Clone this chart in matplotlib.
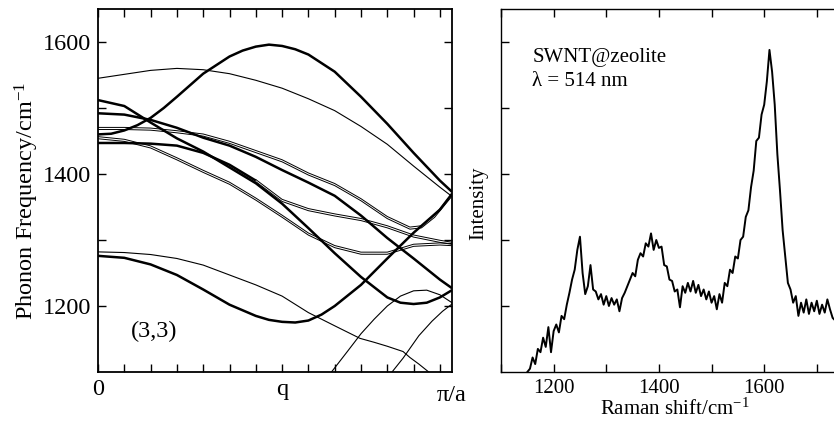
#!/usr/bin/env python
# -*- coding: utf-8 -*-

import matplotlib
matplotlib.use('Agg')
import matplotlib.pyplot as plt
import numpy as np

plt.rcParams['font.family'] = ['Liberation Serif', 'DejaVu Serif']
plt.rcParams['mathtext.fontset'] = 'custom'
plt.rcParams['mathtext.rm'] = 'Liberation Serif'
plt.rcParams['mathtext.it'] = 'Liberation Serif:italic'

# ---- phonon dispersion of the (3,3) tube (q in tick units, pi/a = 13.46) ----
q_grid = [0, 1, 2, 3, 4, 5, 6, 7, 8, 9, 10, 11, 12, 13, 13.46]

band_a_q = [0, 0.5, 1, 1.5, 2, 2.5, 3, 4, 5, 5.5, 6, 6.5, 7, 7.5, 8, 9, 10, 11, 12, 13, 13.46]
band_a = [1460, 1461, 1466, 1474, 1485, 1500, 1517, 1552, 1578, 1587, 1593, 1596, 1594, 1589, 1581,
          1555, 1517, 1476, 1432, 1390, 1373]
band_b = [1545, 1551, 1557, 1560, 1558, 1552, 1542, 1530, 1514, 1496, 1472, 1445, 1412, 1380, 1366]
band_d = [1492, 1490, 1482, 1470, 1455, 1443, 1426, 1406, 1387, 1367, 1337, 1303, 1272, 1240, 1227]
band_f = [1455, 1451, 1441, 1423, 1404, 1386, 1362, 1336, 1309, 1290, 1280, 1280, 1292, 1294, 1293]
band_g = [1447, 1447, 1446, 1443, 1432, 1414, 1390, 1360, 1346, 1338, 1331, 1320, 1306, 1298, 1295]

band_c_q = [0, 1, 2, 3, 4, 5, 6, 7, 8, 9, 10, 11, 11.5, 12, 12.5, 13, 13.46]
band_c = [1512, 1503, 1478, 1454, 1434, 1410, 1386, 1355, 1318, 1280, 1244, 1213, 1205, 1203, 1205,
          1213, 1224]

band_e_q = [0, 1, 2, 3, 4, 5, 6, 7, 8, 9, 10, 11, 11.86, 12.3, 12.8, 13.46]
band_e = [1469, 1469, 1468, 1464, 1459, 1448, 1434, 1420, 1400, 1384, 1361, 1334, 1318, 1320, 1336, 1368]

band_h_q = [0, 1, 2, 3, 4, 5, 6, 7, 8, 9, 9.96, 10.5, 11, 11.6, 11.86, 12.2, 12.7]
band_h = [1282, 1281, 1278, 1272, 1262, 1247, 1232, 1215, 1190, 1170, 1151, 1145, 1139, 1131, 1122, 1112, 1096]

band_i_q = [0, 1, 2, 3, 4, 5, 6, 6.5, 7, 7.5, 8, 8.5, 9, 10, 11, 12, 13, 13.46]
band_i = [1276, 1273, 1263, 1247, 1225, 1202, 1185, 1179, 1176, 1175, 1178, 1187, 1200, 1232, 1272,
          1311, 1346, 1370]

band_r1_q = [8.8, 9.5, 10, 10.5, 11, 11.5, 12, 12.5, 13, 13.46]
band_r1 = [1096, 1132, 1158, 1180, 1200, 1215, 1223, 1224, 1217, 1205]

band_r2_q = [11.1, 11.6, 12.2, 12.7, 13.1, 13.46]
band_r2 = [1096, 1121, 1155, 1177, 1192, 1203]

# ---- Raman spectrum, SWNT@zeolite, 514 nm ----
raman_shift = np.arange(1150, 1736, 5)
raman_int = [0.00, 0.05, 0.22, 0.12, 0.35, 0.30, 0.52, 0.38, 0.68, 0.30,
             0.62, 0.72, 0.60, 0.85, 0.80, 1.02, 1.20, 1.40, 1.55, 1.85,
             2.05, 1.50, 1.18, 1.30, 1.62, 1.25, 1.22, 1.10, 1.18, 1.02,
             1.15, 1.00, 1.12, 1.02, 1.10, 0.92, 1.12, 1.20, 1.30, 1.40,
             1.50, 1.45, 1.70, 1.80, 1.75, 1.95, 1.90, 2.10, 1.85, 2.00,
             1.88, 1.90, 1.62, 1.60, 1.40, 1.38, 1.22, 1.25, 0.98, 1.30,
             1.20, 1.35, 1.22, 1.38, 1.20, 1.32, 1.15, 1.25, 1.10, 1.22,
             1.05, 1.15, 0.95, 1.18, 1.05, 1.35, 1.30, 1.55, 1.50, 1.75,
             1.72, 2.00, 2.05, 2.35, 2.45, 2.80, 3.05, 3.50, 3.55, 3.90,
             4.05, 4.40, 4.88, 4.55, 4.05, 3.30, 2.75, 2.15, 1.75, 1.35,
             1.25, 1.05, 1.15, 0.85, 1.05, 0.90, 1.10, 0.88, 1.05, 0.92,
             1.08, 0.88, 1.02, 0.90, 1.10, 0.95, 0.82, 0.78]

Q_MAX = 13.46
THICK = 1.8
THIN = 0.8
SPLIT = 1.6  # half gap of the nearly degenerate (double) bands


def thick(ax, q, w):
    ax.plot(q, w, color='black', lw=THICK, solid_capstyle='butt')


def thin(ax, q, w):
    ax.plot(q, w, color='black', lw=THIN)


def double(ax, q, w):
    w = np.asarray(w, dtype=float)
    ax.plot(q, w - SPLIT, color='black', lw=0.7)
    ax.plot(q, w + SPLIT, color='black', lw=0.7)


fig = plt.figure(figsize=(8.34, 4.25), dpi=100)

# 左: フォノン分散
ax1 = fig.add_axes([98 / 834, 1 - 372 / 425, 354 / 834, 363 / 425])
thick(ax1, band_a_q, band_a)
thin(ax1, q_grid, band_b)
thick(ax1, band_c_q, band_c)
thick(ax1, q_grid, band_d)
double(ax1, band_e_q, band_e)
double(ax1, q_grid, band_f)
thick(ax1, q_grid[:7], band_g[:7])
double(ax1, q_grid[6:], band_g[6:])
thin(ax1, band_h_q, band_h)
thick(ax1, band_i_q, band_i)
thin(ax1, band_r1_q, band_r1)
thin(ax1, band_r2_q, band_r2)

ax1.set_xlim(0, Q_MAX)
ax1.set_ylim(1100, 1650)
ax1.set_xticks(np.arange(0, 14))
ax1.set_xticklabels(['0', '', '', '', '', '', '', 'q', '', '', '', '', '', ''])
ax1.set_yticks([1200, 1400, 1600])
ax1.set_yticks([1300, 1500], minor=True)
ax1.tick_params(which='both', direction='in', top=True, right=True,
                length=6, width=1.0, labelsize=17.5, pad=5)
ax1.text(Q_MAX, -0.035, 'π/a', transform=ax1.get_xaxis_transform(),
         ha='center', va='top', fontsize=17.5)
ax1.set_ylabel('Phonon Frequency/cm$^{-1}$', fontsize=17.5)
ax1.yaxis.set_label_coords(-0.16, 0.47)
ax1.text(2.13, 1162, '(3,3)', ha='center', va='center', fontsize=17.5)
for s in ax1.spines.values():
    s.set_linewidth(1.3)

# 右: ラマンスペクトル
ax2 = fig.add_axes([501 / 834, 1 - 372 / 425, 359 / 834, 363 / 425])
ax2.plot(raman_shift, raman_int, color='black', lw=1.4)
ax2.set_xlim(1100, 1782)
ax2.set_ylim(0, 5.5)
ax2.set_xticks([1200, 1400, 1600])
ax2.set_xticks([1100, 1300, 1500, 1700], minor=True)
ax2.set_yticks([1, 2, 3, 4, 5])
ax2.set_yticklabels([])
ax2.tick_params(which='both', direction='in', top=True, right=True,
                length=6, width=1.0, labelsize=15, pad=5)
ax2.set_xlabel('Raman shift/cm$^{-1}$', fontsize=15)
ax2.xaxis.set_label_coords(0.485, -0.072)
ax2.set_ylabel('Intensity', fontsize=15)
ax2.yaxis.set_label_coords(-0.036, 0.466)
ax2.text(0.087, 0.866, 'SWNT@zeolite', transform=ax2.transAxes,
         ha='left', va='center', fontsize=15)
ax2.text(0.087, 0.80, 'λ = 514 nm', transform=ax2.transAxes,
         ha='left', va='center', fontsize=15)
for s in ax2.spines.values():
    s.set_linewidth(1.0)

fig.savefig('out.png', dpi=100)
